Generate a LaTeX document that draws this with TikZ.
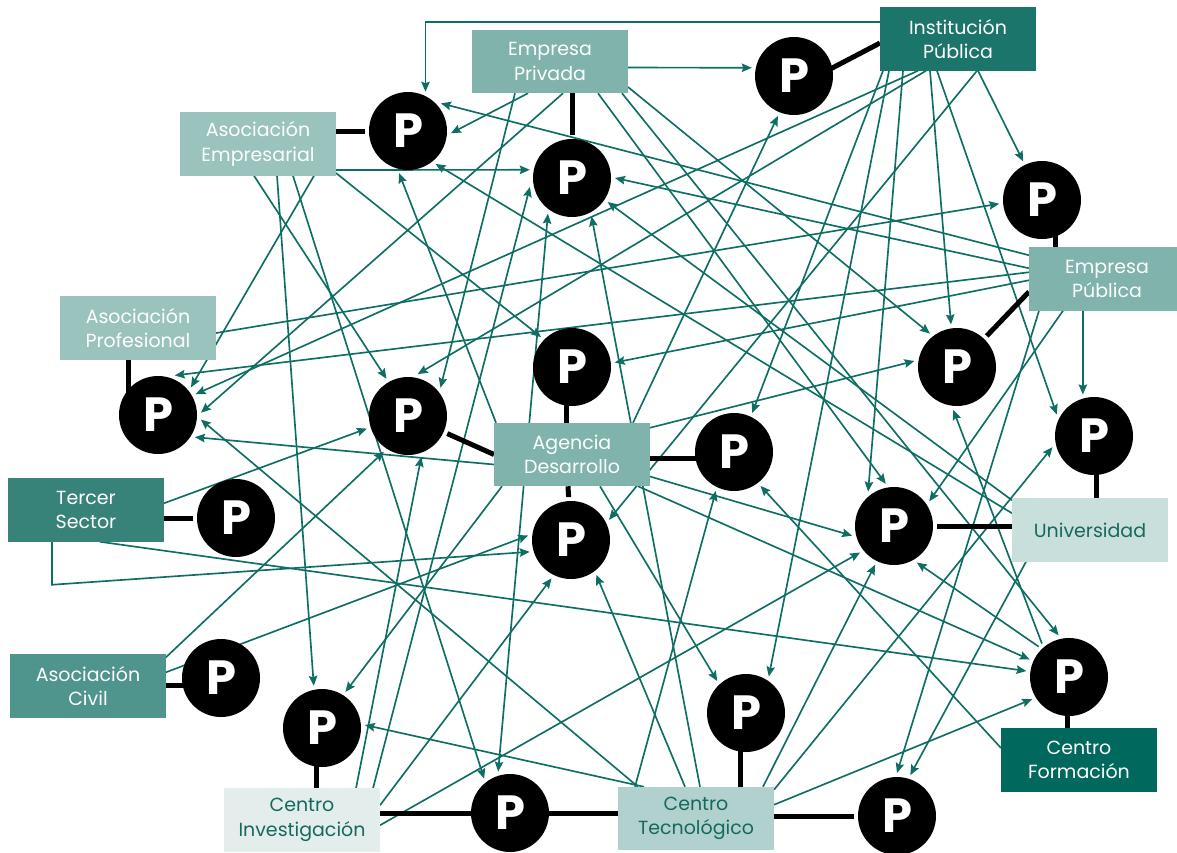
\documentclass[tikz,border=0pt]{standalone}
\usepackage{fontspec}
\setmainfont{Poppins}
\usetikzlibrary{arrows.meta,calc}

\definecolor{wire}{HTML}{0E6E63}
\definecolor{tealA}{HTML}{80B3AB}
\definecolor{tealB}{HTML}{1C756B}
\definecolor{tealC}{HTML}{9AC3BD}
\definecolor{tealD}{HTML}{37837A}
\definecolor{tealE}{HTML}{C9DFDB}
\definecolor{tealF}{HTML}{4F958D}
\definecolor{tealG}{HTML}{E3EEEC}
\definecolor{tealH}{HTML}{B0D1CD}
\definecolor{tealI}{HTML}{00685C}
\definecolor{inkteal}{HTML}{16695E}

\pgfdeclarelayer{wires}
\pgfdeclarelayer{links}
\pgfsetlayers{wires,links,main}

\tikzset{
  box/.style={rectangle, minimum width=156pt, minimum height=63.5pt, inner sep=0pt,
    outer sep=0pt, align=center, text=white, font=\fontsize{19}{24.5}\selectfont},
  pc/.style={circle, fill=black, minimum size=78pt, inner sep=0pt, outer sep=4pt,
    text=white, font=\bfseries\fontsize{48}{48}\selectfont},
  tip/.tip={Stealth[length=10pt,width=8.5pt,inset=1.5pt]},
  arr/.style={wire, line width=1.65pt, -tip},
  arrboth/.style={wire, line width=1.65pt, tip-tip},
  link/.style={black, line width=5pt},
}

\begin{document}
\begin{tikzpicture}[x=1pt,y=-1pt]
\useasboundingbox (0,0) rectangle (1177,852);

% organisations
\node[box, fill=tealA] (EP)  at (550,61.5)  {Empresa\\Privada};
\node[box, fill=tealB] (IP)  at (958,39)    {Institución\\Pública};
\node[box, fill=tealC] (AE)  at (258,144)   {Asociación\\Empresarial};
\node[box, fill=tealC] (AP)  at (138,328)   {Asociación\\Profesional};
\node[box, fill=tealA] (EPu) at (1107,279)  {Empresa\\Pública};
\node[box, fill=tealA] (AD)  at (572,454.5) {Agencia\\Desarrollo};
\node[box, fill=tealD] (TS)  at (86,510)    {Tercer\\Sector};
\node[box, fill=tealE, text=inkteal] (U)  at (1090,530) {Universidad};
\node[box, fill=tealF] (AC)  at (88,686)    {Asociación\\Civil};
\node[box, fill=tealG, text=inkteal] (CI) at (302,820)   {Centro\\Investigación};
\node[box, fill=tealH, text=inkteal] (CT) at (696,818.5) {Centro\\Tecnológico};
\node[box, fill=tealI] (CF)  at (1079,760)  {Centro\\Formación};

% project circles
\node[pc] (P1)  at (408,131) {P};
\node[pc] (P2)  at (572,178) {P};
\node[pc] (P3)  at (794,76)  {P};
\node[pc] (P4)  at (1042,200) {P};
\node[pc] (P5)  at (158,415) {P};
\node[pc] (P6)  at (408,416) {P};
\node[pc] (P7)  at (572,367) {P};
\node[pc] (P8)  at (957,367) {P};
\node[pc] (P9)  at (734,452) {P};
\node[pc] (P10) at (571,540) {P};
\node[pc] (P11) at (1094,436) {P};
\node[pc] (P12) at (894,526) {P};
\node[pc] (P13) at (236,518) {P};
\node[pc] (P14) at (221,678) {P};
\node[pc] (P15) at (322,728) {P};
\node[pc] (P16) at (746,713) {P};
\node[pc] (P17) at (1069,677) {P};
\node[pc] (P18) at (510,813) {P};
\node[pc] (P19) at (897,816) {P};

% each organisation tied to its project
\begin{pgfonlayer}{links}
\draw[link] (P1) -- (AE.east |- P1);
\draw[link] (P2) -- (P2 |- EP.south);
\draw[link] ($(P3)+(0,12)$) -- ($(IP.west)+(0,4)$);
\draw[link] ($(P4)+(13,0)$) -- ($(EPu.north west)+(26,0)$);
\draw[link] ($(P5)+(-30,0)$) -- ($(AP.south west)+(68,0)$);
\draw[link] (P6) -- (AD.west);
\draw[link] ($(P7)+(-6,0)$) -- ($(AD.north)+(-6,0)$);
\draw[link] (P8) -- ($(EPu.south west)+(0,-19)$);
\draw[link] ($(P9)+(0,6)$) -- ($(AD.east)+(0,3.5)$);
\draw[link] (P10) -- ($(AD.south)+(-4,0)$);
\draw[link] ($(P11)+(2,0)$) -- ($(U.north west)+(84,0)$);
\draw[link] (P12) -- (U.west |- P12);
\draw[link] (P13) -- (TS.east |- P13);
\draw[link] ($(P14)+(0,7)$) -- ($(AC.east)+(0,-1)$);
\draw[link] ($(P15)+(-6,0)$) -- ($(CI.north west)+(92,0)$);
\draw[link] ($(P16)+(-6,0)$) -- ($(CT.north west)+(122,0)$);
\draw[link] ($(P17)+(-2,0)$) -- ($(CF.north west)+(66,0)$);
\draw[link] (CI.east |- P18) -- (CT.west |- P18);
\draw[link] (CT.east |- P19) -- (P19);
\end{pgfonlayer}

% collaboration arrows
\begin{pgfonlayer}{wires}
% to P1
\draw[arr] ($(IP.north west)+(0,15)$) -| (P1.66);
\draw[arr] ($(EP.south west)+(56,0)$) -- (P1.-3);
\draw[arr] ($(EPu.north west)+(0,8)$) -- (P1.40);
\draw[arr] ($(U.north west)+(0,15)$) -- (P1.-50);
\draw[arr] ($(AD.north west)+(2,0)$) -- (P1.258);
% to P2
\draw[arr] ($(AE.east)+(0,26)$) -- (P2.169);
\draw[arr] ($(EPu.north west)+(0,21)$) -- (P2.0);
\draw[arr] ($(U.north west)+(0,2)$) -- (P2.-34);
\draw[arr] ($(CT.north west)+(82,0)$) -- (P2.-63);
\draw[arr] ($(CI.north west)+(149,0)$) -- (P2.192);
\draw[arrboth] (P18.106) -- (P2.236);
% to P3
\draw[arr] ($(EP.east)+(0,6)$) -- (P3.169);
\draw[arr] ($(AD.north west)+(139,0)$) -- (P3.248);
% to P4
\draw[arr] ($(IP.south west)+(98,0)$) -- (P4.116);
\draw[arr] ($(AP.east)+(0,5)$) -- (P4.185);
% to P5
\draw[arr] ($(EPu.north west)+(0,25)$) -- (P5.67);
\draw[arr] ($(AE.south west)+(134,0)$) -- (P5.40);
\draw[arr] ($(IP.south west)+(38,0)$) -- (P5.29);
\draw[arr] ($(EP.south west)+(91,0)$) -- (P5.3);
\draw[arr] ($(CT.north west)+(20,0)$) -- (P5.-6);
\draw[arr] ($(AD.west)+(0,10)$) -- (P5.-31);
% to P6
\draw[arr] ($(AE.south west)+(74,0)$) -- (P6.120);
\draw[arr] ($(IP.south west)+(46,0)$) -- (P6.77);
\draw[arr] ($(EP.south west)+(43,0)$) -- (P6.41);
\draw[arr] ($(TS.north east)+(0,25)$) -- (P6.197);
\draw[arr] ($(AC.north east)+(0,3)$) -- (P6.236);
\draw[arr] ($(CI.north west)+(132,0)$) -- (P6.-72);
% to P7
\draw[arr] ($(AE.east)+(0,29)$) -- (P7.136);
\draw[arr] ($(EPu.north west)+(0,33)$) -- (P7.6);
% to P8
\draw[arr] ($(EP.east)+(0,25.5)$) -- (P8.129);
\draw[arr] ($(IP.south west)+(50,0)$) -- (P8.98);
\draw[arr] ($(AD.north east)+(0,5)$) -- (P8.172);
\draw[arr] (P17.129) -- (P8.265);
% to P9
\draw[arr] ($(IP.south west)+(3,0)$) -- (P9.65);
\draw[arr] ($(CT.north west)+(17,0)$) -- (P9.245);
\draw[arr] ($(CF.west)+(0,-12)$) -- (P9.-52);
% to P10
\draw[arr] ($(AC.north east)+(0,18)$) -- (P10.174);
\draw[arr] ($(TS.south west)+(44,0)$) -- ++(0,43) -- (P10.196);
\draw[arr] ($(IP.south west)+(97,0)$) -- (P10.28);
\draw[arr] ($(CT.north west)+(67,0)$) -- (P10.-54);
\draw[arr] ($(CI.north east)+(0,17)$) -- (P10.243);
% to P11
\draw[arr] (P11.105 |- EPu.south) -- (P11.105);
\draw[arr] ($(IP.south west)+(57,0)$) -- (P11.150);
\draw[arr] ($(CT.north east)+(0,3)$) -- (P11.195);
% to P12
\draw[arr] ($(IP.south west)+(23,0)$) -- (P12.127);
\draw[arr] ($(EP.south west)+(126,0)$) -- (P12.101);
\draw[arr] ($(EPu.south west)+(34,0)$) -- (P12.35);
\draw[arr] ($(AD.east)+(0,22)$) -- (P12.193);
\draw[arr] ($(CI.north east)+(0,37)$) -- (P12.218);
\draw[arr] ($(CT.north west)+(145,0)$) -- (P12.244);
\draw[arr] (P17.135) -- (P12.-58);
% to P15
\draw[arr] ($(AE.south west)+(97,0)$) -- (P15.101);
\draw[arr] ($(AD.south west)+(8,0)$) -- (P15.57);
\draw[arr] ($(CT.north west)+(26,0)$) -- (P15.4);
% to P16
\draw[arr] ($(AD.south west)+(106,0)$) -- (P16.132);
\draw[arr] ($(IP.south west)+(9,0)$) -- (P16.58);
% to P17
\draw[arr] ($(TS.south west)+(92,0)$) -- (P17.172);
\draw[arr] ($(AD.south east)+(-12,0)$) -- (P17.156);
\draw[arr] ($(EP.south west)+(150,0)$) -- (P17.104);
\draw[arr] ($(CT.north east)+(0,18)$) -- (P17.211);
% to P18
\draw[arr] ($(AE.south west)+(113,0)$) -- (P18.127);
% to P19
\draw[arr] ($(EPu.south west)+(10,0)$) -- (P19.90);
\draw[arr] ($(U.south west)+(14,0)$) -- (P19.72);
\end{pgfonlayer}
\end{tikzpicture}
\end{document}
